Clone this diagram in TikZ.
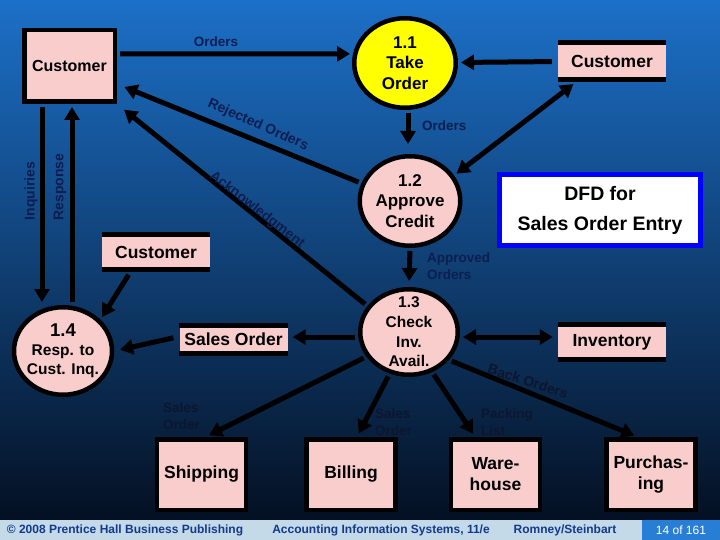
\documentclass[tikz,border=0pt]{standalone}
\usepackage{fontspec}
\setmainfont{Liberation Sans}
\usepackage{tikz}
\usepackage{xcolor}
\usetikzlibrary{shapes.geometric,arrows.meta}
\definecolor{bgtop}{RGB}{28,112,200}
\definecolor{bgmid}{RGB}{18,82,150}
\definecolor{bgbot}{RGB}{4,16,34}
\definecolor{boxpink}{RGB}{250,205,205}
\definecolor{procyellow}{RGB}{255,255,0}
\definecolor{lblnavy}{RGB}{12,30,80}
\definecolor{lbldark}{RGB}{12,22,48}
\definecolor{footbar}{RGB}{196,218,232}
\definecolor{footpage}{RGB}{40,126,212}
\definecolor{foottext}{RGB}{18,58,140}

\begin{document}
\begin{tikzpicture}[x=1pt, y=-1pt, >={Triangle[length=13pt,width=15pt]}]
	\tikzstyle{flow} = [draw=black, line width=5pt, ->, shorten <=3pt, shorten >=3pt]
	\tikzstyle{proc} = [ellipse, draw=black, line width=4.5pt, fill=boxpink, inner sep=-12pt, align=center, font=\bfseries\fontsize{17}{20.5}\selectfont]
	\tikzstyle{ent} = [rectangle, draw=black, line width=4.5pt, fill=boxpink, minimum width=89pt, minimum height=70.5pt, align=center, font=\bfseries\fontsize{17.5}{21}\selectfont]
	\tikzstyle{store} = [rectangle, fill=boxpink, inner sep=0pt, minimum width=108pt, font=\bfseries\fontsize{17.5}{21}\selectfont]
	\tikzstyle{lbl} = [text=lblnavy, font=\bfseries\fontsize{13.5}{17}\selectfont, align=left, inner sep=0pt]
	\tikzstyle{lbldk} = [lbl, text=lbldark]
	\tikzstyle{foot} = [text=foottext, font=\bfseries\fontsize{12}{14}\selectfont]

	\useasboundingbox (0,0) rectangle (720,540);
	\shade[top color=bgtop, middle color=bgmid, bottom color=bgbot] (0,0) rectangle (720,520);
	\fill[footbar] (0,520) rectangle (720,540);
	\fill[footpage] (642,520) rectangle (720,540);

	\node[ent, minimum width=90.5pt, minimum height=71.5pt, font=\bfseries\fontsize{16}{19}\selectfont] (cust) at (69.5,66) {Customer};
	\node[proc, fill=procyellow, minimum width=101.5pt, minimum height=89.5pt] (take) at (405,63) {1.1\\Take\\Order};
	\node[store, minimum height=36pt] (custtop) at (612,61) {Customer};
	\node[proc, minimum width=100.5pt, minimum height=89.5pt] (approve) at (410,201) {1.2\\Approve\\Credit};
	\node[draw=blue, line width=5pt, fill=white, minimum width=201pt, minimum height=71pt, align=center, font=\bfseries\fontsize{19.5}{30}\selectfont] (title) at (600,210) {DFD for\\Sales Order Entry};
	\node[store, minimum height=35pt] (custmid) at (156,252) {Customer};
	\node[proc, minimum width=97.5pt, minimum height=85.5pt, font=\bfseries\fontsize{15.5}{19.7}\selectfont] (check) at (409,332) {1.3\\Check\\Inv.\\Avail.};
	\node[proc, minimum width=98pt, minimum height=87.5pt, font=\bfseries\fontsize{15.5}{19}\selectfont] (resp) at (63,351) {{\fontsize{18.5}{19}\selectfont 1.4}\\Resp. to\\Cust. Inq.};
	\node[store, minimum height=28pt] (salesord) at (233.5,339.5) {Sales Order};
	\node[store, minimum height=35pt] (inv) at (612,342) {Inventory};
	\node[ent] (ship) at (201.5,474.5) {Shipping};
	\node[ent] (bill) at (351,474.5) {Billing};
	\node[ent] (ware) at (495.5,474.5) {Ware-\\house};
	\node[ent] (purch) at (651,474.5) {Purchas-\\ing};

	\foreach \s in {custtop,custmid,salesord,inv}
		\draw[line width=5pt] (\s.north west) -- (\s.north east) (\s.south west) -- (\s.south east);

	\draw[flow] ([yshift=12pt]cust.east) -- (take.170);
	\draw[flow, shorten <=6pt] (custtop) -- (take);
	\draw[flow, shorten >=10pt] ([xshift=3pt]take.south) -- ([xshift=3pt]take.south |- approve.north);
	\draw[flow, <->, shorten >=8pt] (approve.30) -- ([xshift=22pt]custtop.south west);
	\draw[flow, shorten >=8pt] (approve.160) -- ([yshift=20pt]cust.south east);
	\draw[flow, shorten >=9pt] (check.148) -- (cust.south east);
	\draw[flow] ([xshift=20pt]cust.south west) -- ([xshift=20pt]cust.south west |- resp.north);
	\draw[flow] ([xshift=50pt]cust.south west |- resp.north) -- ([xshift=50pt]cust.south west);
	\draw[flow, shorten <=6pt] ([xshift=30pt]custmid.south west) -- (resp.40);
	\draw[flow, shorten <=6pt, shorten >=6pt] ([yshift=3pt]salesord.west) -- (resp.east);
	\draw[flow, shorten >=6pt] (approve.south) -- (check.north);
	\draw[flow, shorten >=5pt] ([yshift=-5pt]check.west) -- ([yshift=2.5pt]salesord.east);
	\draw[flow, <->, shorten >=5pt] ([yshift=-5pt]check.east) -- ([yshift=5pt]inv.west);
	\draw[flow, shorten >=4pt] (check.210) -- ([xshift=4pt]ship.north);
	\draw[flow, shorten >=4pt] (check.245) -- ([xshift=6pt]bill.north);
	\draw[flow, shorten >=4pt] (check.300) -- ([xshift=-20pt]ware.north);
	\draw[flow, shorten >=4pt] (check.325) -- ([xshift=-13pt]purch.north);

	\node[lbl] (lorders) at (216,42) {Orders};
	\node[lbl, anchor=west] (lorders2) at (422,126) {Orders};
	\node[lbl, anchor=west] (lapproved) at (427,266) {Approved\\Orders};
	\node[lbl, rotate=-24, font=\bfseries\fontsize{14}{17}\selectfont] (lreject) at (258,125) {Rejected Orders};
	\node[lbl, rotate=-38, font=\bfseries\fontsize{14}{17}\selectfont] (lack) at (257,210) {Acknowledgment};
	\node[lbl, rotate=90, font=\bfseries\fontsize{14}{17}\selectfont] (linq) at (31,191) {Inquiries};
	\node[lbl, rotate=90, font=\bfseries\fontsize{14}{17}\selectfont] (lresp) at (60,187) {Response};
	\node[lbldk, anchor=west] (lso1) at (163,416) {Sales\\Order};
	\node[lbldk, anchor=west] (lso2) at (375,422) {Sales\\Order};
	\node[lbldk, anchor=west] (lpack) at (481,422) {Packing\\List};
	\node[lbldk, rotate=-18, font=\bfseries\fontsize{14}{17}\selectfont] (lback) at (528,381) {Back Orders};

	\node[foot] (fpub) at (125,530) {© 2008 Prentice Hall Business Publishing};
	\node[foot] (fbook) at (381,530) {Accounting Information Systems, 11/e};
	\node[foot] (fauth) at (565,530) {Romney/Steinbart};
	\node[text=white, font=\fontsize{12}{14}\selectfont] (fpage) at (681,530) {14 of 161};
\end{tikzpicture}
\end{document}
